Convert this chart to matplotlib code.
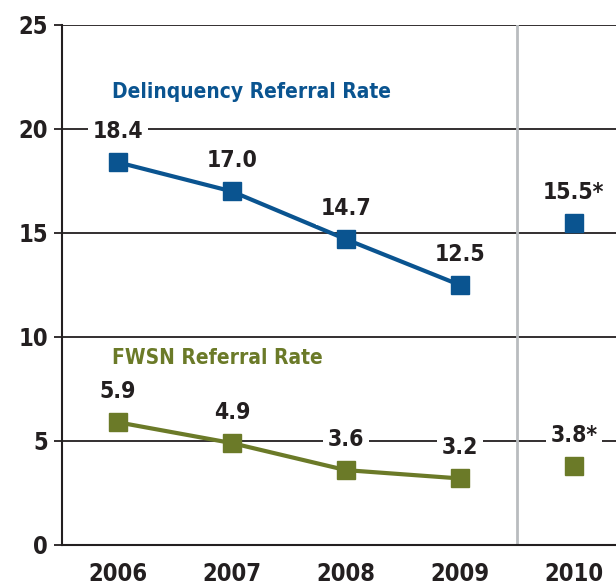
import matplotlib.pyplot as plt

years = ["2006", "2007", "2008", "2009", "2010"]
delinquency = [18.4, 17.0, 14.7, 12.5, 15.5]
fwsn = [5.9, 4.9, 3.6, 3.2, 3.8]
delinquency_labels = ["18.4", "17.0", "14.7", "12.5", "15.5*"]
fwsn_labels = ["5.9", "4.9", "3.6", "3.2", "3.8*"]

BLUE = "#0a5490"
GREEN = "#6b7a28"
TEXT = "#231f20"

plt.rcParams["font.family"] = ["DejaVu Sans"]
plt.rcParams["font.stretch"] = "condensed"
plt.rcParams["font.weight"] = "bold"

fig = plt.figure(figsize=(6.16, 5.85), dpi=100)
ax = fig.add_axes([62 / 616, 40 / 585, 554 / 616, 520 / 585])

x = list(range(len(years)))

# 2006-2009 connected, 2010 stands alone
ax.plot(x[:4], delinquency[:4], color=BLUE, lw=3, marker="s", ms=13.5, zorder=4)
ax.plot(x[4], delinquency[4], color=BLUE, marker="s", ms=13.5, ls="none", zorder=4)
ax.plot(x[:4], fwsn[:4], color=GREEN, lw=3, marker="s", ms=13.5, zorder=4)
ax.plot(x[4], fwsn[4], color=GREEN, marker="s", ms=13.5, ls="none", zorder=4)

for xi, v, lab in zip(x, delinquency, delinquency_labels):
    ax.annotate(lab, (xi, v), xytext=(0, 22), textcoords="offset points",
                ha="center", va="center", fontsize=16.5, color=TEXT, zorder=5,
                bbox=dict(boxstyle="square,pad=0.2", fc="white", ec="none"))
for xi, v, lab in zip(x, fwsn, fwsn_labels):
    ax.annotate(lab, (xi, v), xytext=(0, 22), textcoords="offset points",
                ha="center", va="center", fontsize=16.5, color=TEXT, zorder=5,
                bbox=dict(boxstyle="square,pad=0.2", fc="white", ec="none"))

ax.text(-0.05, 21.8, "Delinquency Referral Rate", color=BLUE, fontsize=15,
        ha="left", va="center")
ax.text(-0.05, 9.0, "FWSN Referral Rate", color=GREEN, fontsize=15,
        ha="left", va="center")

ax.axvline(3.5, color="#b9bcbf", lw=2, zorder=1)

ax.set_xlim(-0.49, 4.37)
ax.set_ylim(0, 25)
ax.set_yticks([0, 5, 10, 15, 20, 25])
ax.set_xticks(x)
ax.set_xticklabels(years)
ax.yaxis.grid(True, color=TEXT, lw=1.3)
ax.set_axisbelow(True)
for s in ["top", "right"]:
    ax.spines[s].set_visible(False)
ax.spines["left"].set_linewidth(1.5)
ax.spines["bottom"].set_linewidth(1.5)
ax.spines["left"].set_color(TEXT)
ax.spines["bottom"].set_color(TEXT)
ax.tick_params(axis="y", length=6, width=1.3, color=TEXT, labelsize=17,
               labelcolor=TEXT, pad=4)
ax.tick_params(axis="x", length=0, labelsize=17, labelcolor=TEXT, pad=12)

fig.savefig("out.png", dpi=100)
